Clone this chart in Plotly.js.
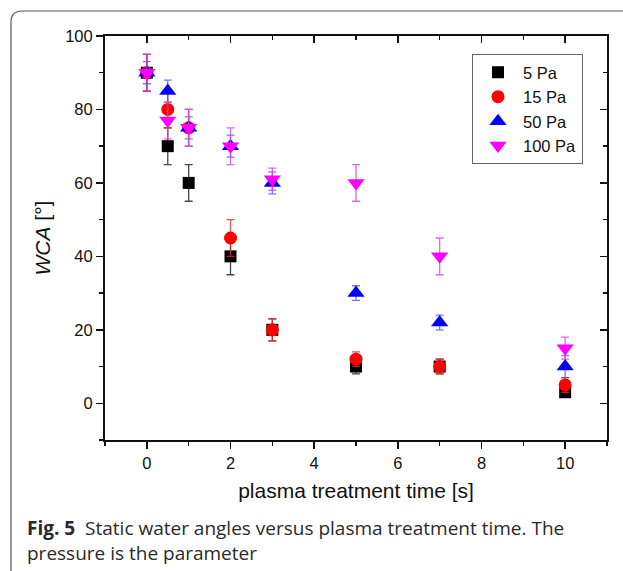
<!DOCTYPE html>
<html>
<head>
<meta charset="utf-8">
<script src="https://cdn.plot.ly/plotly-3.0.1.min.js"></script>
<style>html,body{margin:0;padding:0;background:#fff;}#chart{width:623px;height:571px;}</style>
</head>
<body>
<div id="chart"></div>
<script>
// Data
const times = [0, 0.5, 1, 2, 3, 5, 7, 10];
const seriesNames = ["5 Pa", "15 Pa", "50 Pa", "100 Pa"];
const wca5 = [90, 70, 60, 40, 20, 10, 10, 3];
const err5 = [5, 5, 5, 5, 3, 2, 2, 1];
const wca15 = [90, 80, 75, 45, 20, 12, 10, 5];
const err15 = [5, 5, 5, 5, 3, 2, 2, 2];
const wca50 = [90, 85, 75, 70, 60, 30, 22, 10];
const err50 = [3, 3, 3, 3, 3, 2, 2, 3];
const wca100 = [90, 77, 75, 70, 61, 60, 40, 15];
const err100 = [5, 5, 5, 5, 3, 5, 5, 3];
const xTickVals = [0, 2, 4, 6, 8, 10];
const yTickVals = [0, 20, 40, 60, 80, 100];

const W = 623, H = 571;
const M = {l: 105, r: 16, t: 36, b: 131};
const pw = W - M.l - M.r, ph = H - M.t - M.b;
const px = x => (x - M.l) / pw;
const py = y => (H - M.b - y) / ph;

const axFont = {family: "Liberation Sans, Arial, sans-serif", size: 16.5, color: "#111"};
const titleFont = {family: "Liberation Sans, Arial, sans-serif", size: 21, color: "#111"};

function mk(name, y, e, sym, size, col, ecol) {
  return {
    type: "scatter", mode: "markers", name: name, x: times, y: y,
    marker: {symbol: sym, size: size, color: col, line: {width: 0}},
    error_y: {type: "data", array: e, visible: true, color: ecol, thickness: 1.3, width: 4},
    xaxis: "x", yaxis: "y"
  };
}
const traces = [
  mk(seriesNames[0], wca5, err5, "square", 12, "#000000", "rgba(40,40,40,0.85)"),
  mk(seriesNames[1], wca15, err15, "circle", 13, "#ff0000", "rgba(230,40,40,0.8)"),
  mk(seriesNames[2], wca50, err50, "triangle-up", 15, "#0000ff", "rgba(60,60,255,0.7)"),
  mk(seriesNames[3], wca100, err100, "triangle-down", 15, "#ff00ff", "rgba(225,60,225,0.8)"),
  {type: "scatter", x: [], y: [], xaxis: "x2", yaxis: "y2", showlegend: false, hoverinfo: "skip"}
];

const tickCommon = {
  showgrid: false, zeroline: false, showline: true, linecolor: "#111", linewidth: 2,
  tickcolor: "#111", tickwidth: 1.5
};

const layout = {
  width: W, height: H,
  margin: {l: M.l, r: M.r, t: M.t, b: M.b, pad: 0},
  paper_bgcolor: "#fff", plot_bgcolor: "#fff",
  showlegend: true,
  xaxis: Object.assign({}, tickCommon, {
    range: [-1, 11], tickvals: xTickVals, ticks: "outside", ticklen: 7,
    minor: {dtick: 1, tick0: -1, ticks: "outside", ticklen: 4, tickcolor: "#111", tickwidth: 1.5},
    tickfont: axFont,
    title: {text: "plasma treatment time [s]", font: titleFont, standoff: 13},
    automargin: false
  }),
  yaxis: Object.assign({}, tickCommon, {
    range: [-10, 100], tickvals: yTickVals, ticks: "outside", ticklen: 7,
    minor: {dtick: 10, tick0: -10, ticks: "outside", ticklen: 4, tickcolor: "#111", tickwidth: 1.5},
    tickfont: axFont,
    title: {text: "<i>WCA</i> [°]", font: titleFont, standoff: 9},
    automargin: false
  }),
  xaxis2: Object.assign({}, tickCommon, {
    range: [-1, 11], overlaying: "x", side: "top", anchor: "y2",
    tickvals: xTickVals, ticks: "inside", ticklen: 7, showticklabels: false,
    minor: {dtick: 1, tick0: -1, ticks: "inside", ticklen: 4, tickcolor: "#111", tickwidth: 1.5}
  }),
  yaxis2: Object.assign({}, tickCommon, {
    range: [-10, 100], overlaying: "y", side: "right", anchor: "x2",
    tickvals: yTickVals, ticks: "inside", ticklen: 7, showticklabels: false,
    minor: {dtick: 10, tick0: -10, ticks: "inside", ticklen: 4, tickcolor: "#111", tickwidth: 1.5}
  }),
  legend: {
    x: px(472), y: py(54), xanchor: "left", yanchor: "top",
    bgcolor: "#fff", bordercolor: "#666", borderwidth: 1,
    font: {family: "Liberation Sans, Arial, sans-serif", size: 16.5, color: "#111"},
    tracegroupgap: 0, itemwidth: 40
  },
  shapes: [{
    type: "path", xref: "paper", yref: "paper",
    path: `M ${px(11)} ${py(571)} L ${px(11)} ${py(22)} Q ${px(11)} ${py(11)} ${px(22)} ${py(11)} L ${px(623)} ${py(11)}`,
    line: {color: "#555", width: 1.2}
  }],
  annotations: [{
    xref: "paper", yref: "paper", x: px(25), y: py(513), xanchor: "left", yanchor: "top",
    align: "left", showarrow: false,
    text: "<b>Fig. 5</b>  Static water angles versus plasma treatment time. The<br>pressure is the parameter",
    font: {family: "Open Sans, Noto Sans, sans-serif", size: 19, color: "#2a2a2a"}
  }]
};

Plotly.newPlot("chart", traces, layout, {staticPlot: true});
</script>
</body>
</html>
